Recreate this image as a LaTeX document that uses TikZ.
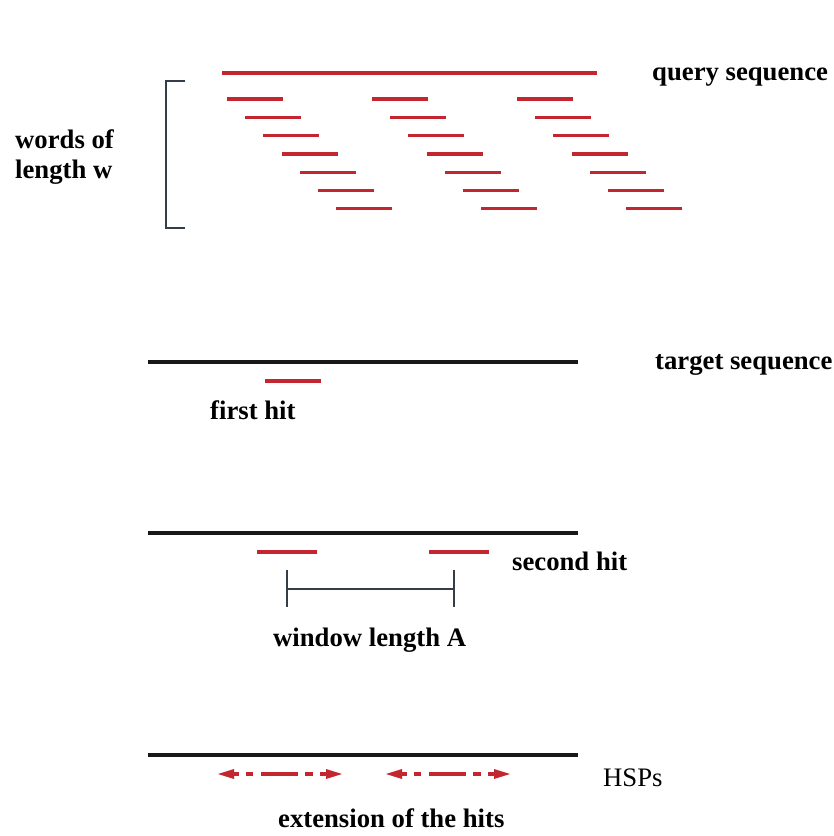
\documentclass[tikz,border=0pt]{standalone}
\usepackage{fontspec}
\setmainfont{Liberation Serif}
\usetikzlibrary{arrows.meta}
\definecolor{seqred}{RGB}{196,38,48}
\definecolor{seqblack}{RGB}{22,24,26}
\definecolor{brk}{RGB}{52,62,72}
\tikzset{
  redseq/.style={seqred, line width=3.2pt},
  word/.style={seqred, line width=3.2pt},
  blackseq/.style={seqblack, line width=3.2pt},
  brace/.style={brk, line width=2.2pt},
  winbar/.style={brk, line width=2pt},
  lbl/.style={anchor=base west, inner sep=0pt, font=\fontsize{26.7}{31}\selectfont\bfseries},
  lblr/.style={anchor=base west, inner sep=0pt, font=\fontsize{26.7}{31}\selectfont},
  hsp/.style={seqred, line width=3.2pt},
  hsphead/.style={seqred, fill=seqred}
}
\begin{document}
\begin{tikzpicture}[x=1pt,y=-1pt]
\useasboundingbox (0,0) rectangle (834,836);
% query sequence
\coordinate (q1) at (222,73);
\coordinate (q2) at (597,73);
\draw[redseq] (q1) -- (q2);
\node[lbl] (qlab) at (652,80) {query sequence};
% words
\foreach \c in {0,145,290}{
  \foreach \i in {0,...,6}{
    \draw[word] ({227+\c+18.2*\i},{99+18.3*\i}) -- ++(56,0);
  }
}
% bracket
\coordinate (b1) at (185,81);
\coordinate (b2) at (166,81);
\coordinate (b3) at (166,228);
\coordinate (b4) at (185,228);
\draw[brace] (b1) -- (b2) -- (b3) -- (b4);
\node[lbl] (wlab1) at (15,148) {words of};
\node[lbl] (wlab2) at (15,178) {length w};
% target sequence / first hit
\coordinate (t1) at (148,362);
\coordinate (t2) at (578,362);
\draw[blackseq] (t1) -- (t2);
\node[lbl] (tlab) at (655,369) {target sequence};
\draw[word] (265,381) -- (321,381);
\node[lbl] (flab) at (210,419) {first hit};
% second hit
\coordinate (s1) at (148,533);
\coordinate (s2) at (578,533);
\draw[blackseq] (s1) -- (s2);
\draw[word] (257,552) -- (317,552);
\draw[word] (429,552) -- (489,552);
\node[lbl] (slab) at (512,570) {second hit};
% window length
\coordinate (wa) at (287,589);
\coordinate (wb) at (454,589);
\draw[winbar] (wa) -- (wb);
\draw[winbar] (287,570) -- (287,607);
\draw[winbar] (454,570) -- (454,607);
\node[lbl] (wlab) at (273,646) {window length A};
% HSPs
\coordinate (h1) at (148,755);
\coordinate (h2) at (578,755);
\draw[blackseq] (h1) -- (h2);
\foreach \o in {0,168}{
  \begin{scope}[xshift=\o]
    \fill[hsphead] (218,774) -- (234,769) -- (234,779) -- cycle;
    \draw[hsp] (232,774) -- (239,774);
    \draw[hsp] (246,774) -- (253,774);
    \draw[hsp] (261,774) -- (298,774);
    \draw[hsp] (305,774) -- (313,774);
    \draw[hsp] (320,774) -- (328,774);
    \fill[hsphead] (342,774) -- (326,769) -- (326,779) -- cycle;
  \end{scope}
}
\node[lblr] (hlab) at (603,786) {HSPs};
\node[lbl] (elab) at (278,827) {extension of the hits};
\end{tikzpicture}
\end{document}
